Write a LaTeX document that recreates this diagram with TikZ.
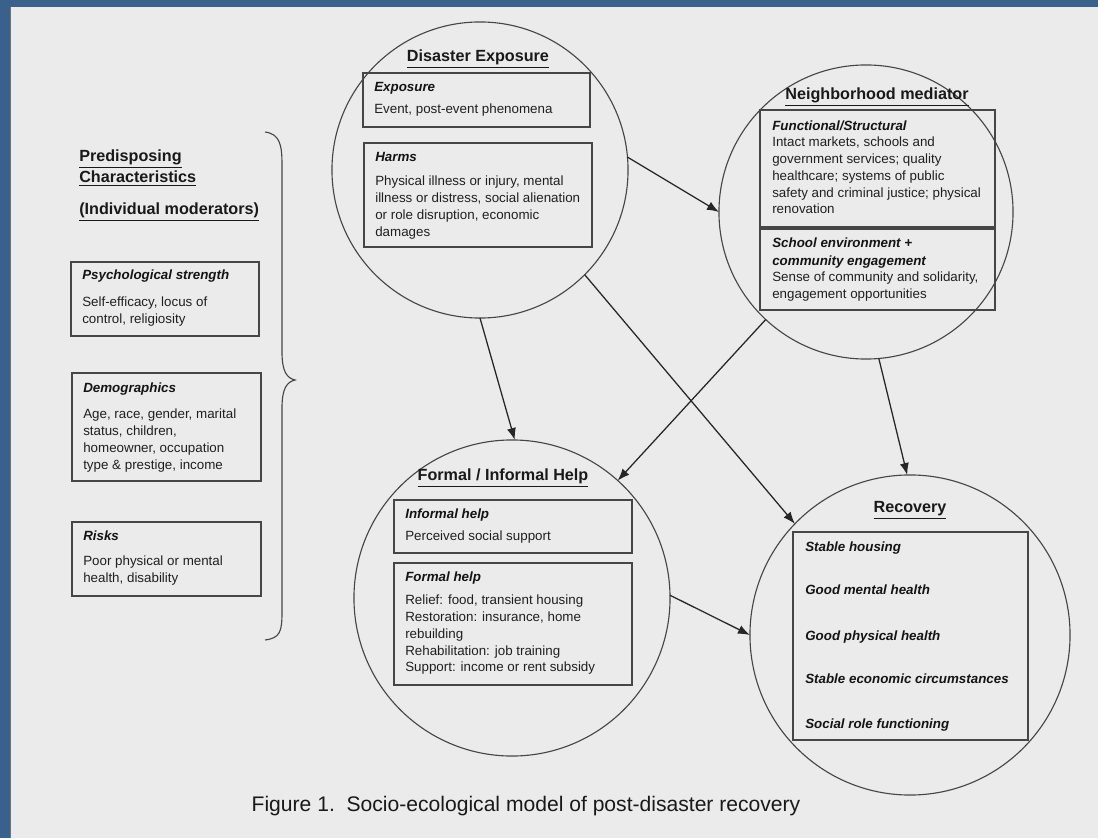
\documentclass[tikz,border=0pt]{standalone}
\usepackage{fontspec}
\setmainfont{Liberation Sans}
\usetikzlibrary{arrows.meta}
\definecolor{slideblue}{RGB}{58,96,140}
\definecolor{panelgray}{RGB}{235,235,235}
\definecolor{inkgray}{RGB}{70,70,70}
\tikzset{
  zone/.style={circle, draw=inkgray, line width=0.8pt, inner sep=0pt, outer sep=0pt},
  infobox/.style={draw=inkgray, line width=1.1pt},
  body/.style={anchor=north west, inner sep=0pt, align=left, text=black!88,
    font=\fontsize{9.5}{11.9}\selectfont},
  head/.style={anchor=base west, inner sep=0pt, align=left, text=black!92,
    font=\fontsize{9.5}{12.6}\selectfont\bfseries\itshape},
  zonetitle/.style={anchor=base, inner sep=0pt, text=black!90,
    font=\fontsize{11.5}{14}\selectfont\bfseries},
  link/.style={draw=black!85, line width=0.9pt, -{Latex[length=8.5pt,width=6.5pt]}}
}
\begin{document}
\begin{tikzpicture}[x=0.025cm,y=-0.025cm]
    \fill[slideblue] (0,0) rectangle (1098,838);
    \fill[panelgray] (10,7) rectangle (1098,838);
    \draw[black!55] (10,7) -- (10,838);
    \useasboundingbox (0,0) rectangle (1098,838);

    % the four circles
    \node[zone, minimum size=7.4cm] (dis) at (480,170) {};
    \node[zone, minimum size=7.35cm] (nbr) at (866,212) {};
    \node[zone, minimum size=7.9cm] (form) at (512,598) {};
    \node[zone, minimum size=8cm] (rec) at (910,635) {};

    % disaster exposure
    \node[zonetitle] (distitle) at (478,62) {\underline{Disaster Exposure}};
    \draw[infobox] (363,73) rectangle (590,127);
    \node[head] (exphead) at (374,92) {Exposure};
    \node[body, anchor=base west] (exptxt) at (374,114) {Event, post-event phenomena};
    \draw[infobox] (364,143) rectangle (592,247);
    \node[head] (harmhead) at (375,162) {Harms};
    \node[body] (harmtxt) at (375,176) {Physical illness or injury, mental\\illness or distress, social alienation\\or role disruption, economic\\damages};

    % neighborhood mediator
    \node[zonetitle] (nbrtitle) at (877,100) {\underline{Neighborhood mediator}};
    \draw[infobox] (760,110) rectangle (995,227);
    \node[head] (funchead) at (772,131) {Functional/Structural};
    \node[body] (functxt) at (772,137) {Intact markets, schools and\\government services; quality\\healthcare; systems of public\\safety and criminal justice; physical\\renovation};
    \draw[infobox] (760,229) rectangle (995,310);
    \node[head, anchor=north west] (schoolhead) at (772,238) {School environment +\\community engagement};
    \node[body] (schooltxt) at (772,272) {Sense of community and solidarity,\\engagement opportunities};

    % predisposing characteristics
    \node[zonetitle, anchor=base west, align=left] (predtitle) at (79,183) {\underline{Predisposing}\\[1pt]\underline{Characteristics}};
    \node[zonetitle, anchor=base west] (modtitle) at (79,215) {\underline{(Individual moderators)}};
    \draw[infobox] (71,262) rectangle (259,336);
    \node[head] (psyhead) at (82,280) {Psychological strength};
    \node[body] (psytxt) at (82,297) {Self-efficacy, locus of\\control, religiosity};
    \draw[infobox] (72,373) rectangle (261,481);
    \node[head] (demohead) at (83,393) {Demographics};
    \node[body] (demotxt) at (83,409) {Age, race, gender, marital\\status, children,\\homeowner, occupation\\type \& prestige, income};
    \draw[infobox] (72,522) rectangle (261,596);
    \node[head] (riskhead) at (83,541) {Risks};
    \node[body] (risktxt) at (83,556) {Poor physical or mental\\health, disability};
    \draw[inkgray, line width=0.8pt] (265,132) .. controls (280,134) and (282,145) .. (282,165)
        -- (282,352) .. controls (282,372) and (287,378) .. (295,380)
        .. controls (287,382) and (282,388) .. (282,408)
        -- (282,612) .. controls (282,632) and (280,638) .. (265,640);

    % formal / informal help
    \node[zonetitle] (formtitle) at (503,481) {\underline{Formal / Informal Help}};
    \draw[infobox] (394,500) rectangle (632,553);
    \node[head] (infhead) at (405,519) {Informal help};
    \node[body, anchor=base west] (inftxt) at (405,541) {Perceived social support};
    \draw[infobox] (394,563) rectangle (632,685);
    \node[head] (fmlhead) at (405,581) {Formal help};
    \node[body] (fmltxt) at (405,595) {Relief: food, transient housing\\Restoration: insurance, home\\rebuilding\\Rehabilitation: job training\\Support: income or rent subsidy};

    % recovery
    \node[zonetitle] (rectitle) at (910,513) {\underline{Recovery}};
    \draw[infobox] (793,532) rectangle (1028,740);
    \node[head] (rec1) at (805,551) {Stable housing};
    \node[head] (rec2) at (805,595) {Good mental health};
    \node[head] (rec3) at (805,640) {Good physical health};
    \node[head] (rec4) at (805,683) {Stable economic circumstances};
    \node[head] (rec5) at (805,728) {Social role functioning};

    % links
    \draw[link] (dis.5) -- (nbr.180);
    \draw[link] (dis.-90) -- (form.89);
    \draw[link] (dis.-45) -- (rec.136);
    \draw[link] (nbr.-133) -- (form.48);
    \draw[link] (nbr.-85) -- (rec.91);
    \draw[link] (form.1) -- (rec.180);

    \node[anchor=base, inner sep=0pt, text=black!90, font=\fontsize{15}{17}\selectfont] (caption) at (526,811) {Figure 1.\ \ Socio-ecological model of post-disaster recovery};
\end{tikzpicture}
\end{document}
